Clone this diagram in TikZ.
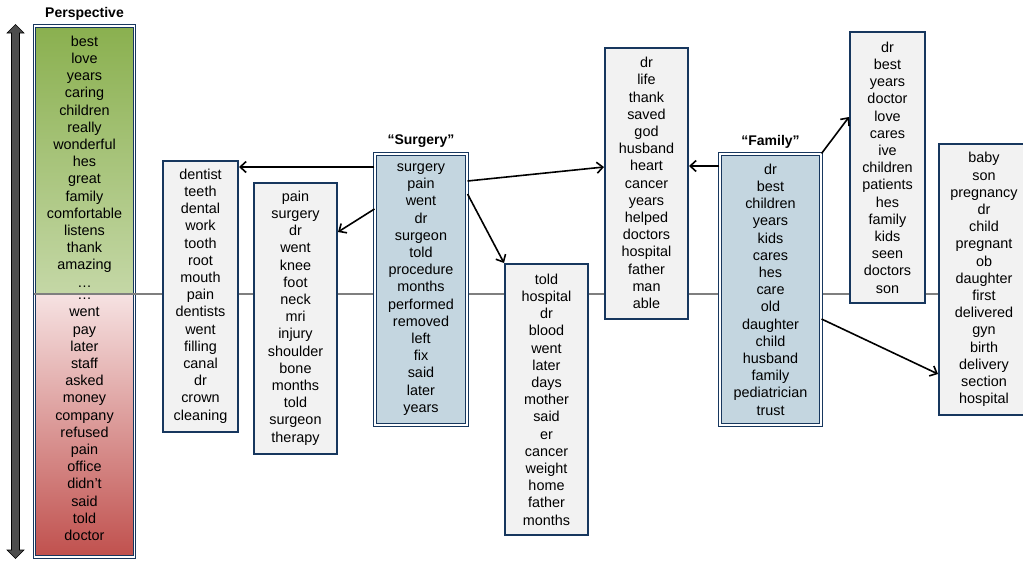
\documentclass[tikz,border=0pt]{standalone}
\usepackage{fontspec}
\setmainfont{Liberation Sans}
\usetikzlibrary{positioning,arrows.meta}
\definecolor{navy}{HTML}{17375E}
\definecolor{boxgray}{HTML}{F2F2F2}
\definecolor{topicblue}{HTML}{C4D6E0}
\definecolor{posgreen}{HTML}{8AB04F}
\definecolor{poslight}{HTML}{F3F7EC}
\definecolor{neglight}{HTML}{F6E2E2}
\definecolor{negred}{HTML}{C0504D}
\definecolor{axisgray}{HTML}{7F7F7F}
\definecolor{arrowgray}{HTML}{4D4D4D}
\begin{document}
\begin{tikzpicture}[x=1pt,y=-1pt,
	>={Straight Barb[length=6pt,width=11pt]},
	words/.style={font=\fontsize{14.4}{17.2}\selectfont, align=center, inner sep=0pt},
	wordbox/.style={words, draw=navy, line width=2pt, fill=boxgray, minimum height=271pt},
	topicbox/.style={wordbox, fill=topicblue, line width=1.1pt, double, double distance=1.6pt, minimum height=271pt},
	title/.style={font=\fontsize{14}{16}\selectfont\bfseries},
	link/.style={->, line width=1.6pt},
	axis/.style={draw=axisgray, line width=1.3pt}]
	\useasboundingbox (0,0) rectangle (1023,560);
	% Horizontal axis ends here
	\coordinate (axisend) at (1023,294);
	% Perspective column with its two shadings
	\node[draw=navy, line width=1.1pt, double, double distance=1.6pt, minimum width=100pt, minimum height=531pt,
		path picture={
			\shade[top color=posgreen, bottom color=poslight, middle color=posgreen!45!poslight] (path picture bounding box.north west) rectangle (path picture bounding box.east |- axisend);
			\shade[top color=neglight, bottom color=negred] (path picture bounding box.west |- axisend) rectangle (path picture bounding box.south east);
		}] (persp) at (84.5,291.75) {};
	\node[title, above=2pt of persp] (persptitle) {Perspective};
	\draw[axis] (persp.west |- axisend) -- (axisend);
	% Perspective arrow
	\filldraw[fill=arrowgray, draw=black, line width=0.6pt] (11.5,33) -- (7,33) -- (15.5,24.5) -- (24,33) -- (19.5,33)
		-- (19.5,550) -- (24,550) -- (15.5,558.5) -- (7,550) -- (11.5,550) -- cycle;
	% Words along the perspective
	\node[words] (goodwords) at (84.5,161.4) {best\\love\\years\\caring\\children\\really\\wonderful\\hes\\great\\family\\comfortable\\listens\\thank\\amazing\\…};
	\node[words] (badwords) at (84.5,419.3) {…\\went\\pay\\later\\staff\\asked\\money\\company\\refused\\pain\\office\\didn’t\\said\\told\\doctor};
	% Topic boxes
	\node[wordbox, minimum width=75pt] (dentist) at (200.5,296) {dentist\\teeth\\dental\\work\\tooth\\root\\mouth\\pain\\dentists\\went\\filling\\canal\\dr\\crown\\cleaning};
	\node[wordbox, minimum width=83pt] (pain) at (295.5,318) {pain\\surgery\\dr\\went\\knee\\foot\\neck\\mri\\injury\\shoulder\\bone\\months\\told\\surgeon\\therapy};
	\node[topicbox, minimum width=92pt] (surgery) at (421,289.5) {surgery\\pain\\went\\dr\\surgeon\\told\\procedure\\months\\performed\\removed\\left\\fix\\said\\later\\years};
	\node[title, above=2pt of surgery] (surgerytitle) {“Surgery”};
	\node[wordbox, minimum width=83pt] (told) at (546.5,399.5) {told\\hospital\\dr\\blood\\went\\later\\days\\mother\\said\\er\\cancer\\weight\\home\\father\\months};
	\node[wordbox, minimum width=83pt] (drlife) at (646.5,183) {dr\\life\\thank\\saved\\god\\husband\\heart\\cancer\\years\\helped\\doctors\\hospital\\father\\man\\able};
	\node[topicbox, minimum width=101pt] (family) at (770.5,289.5) {dr\\best\\children\\years\\kids\\cares\\hes\\care\\old\\daughter\\child\\husband\\family\\pediatrician\\trust};
	\node[title, above=2pt of family] (familytitle) {“Family”};
	\node[wordbox, minimum width=75pt] (drbest) at (887.5,167.5) {dr\\best\\years\\doctor\\love\\cares\\ive\\children\\patients\\hes\\family\\kids\\seen\\doctors\\son};
	\node[wordbox, minimum width=90pt] (baby) at (984,279.5) {baby\\son\\pregnancy\\dr\\child\\pregnant\\ob\\daughter\\first\\delivered\\gyn\\birth\\delivery\\section\\hospital};
	% Links out of "Surgery"
	\draw[link] (surgery.west |- 0,167) -- (dentist.east |- 0,167);
	\draw[link] (surgery.west |- 0,209) -- (pain.east |- 0,232);
	\draw[link] (surgery.east |- 0,181) -- (drlife.west |- 0,167);
	\draw[link] (surgery.east |- 0,194) -- (told.north west);
	% Links out of "Family"
	\draw[link] (family.west |- 0,166) -- (drlife.east |- 0,166);
	\draw[link] (family.north east) -- (drbest.west |- 0,117);
	\draw[link] (family.east |- 0,319) -- (baby.west |- 0,374);
\end{tikzpicture}
\end{document}
